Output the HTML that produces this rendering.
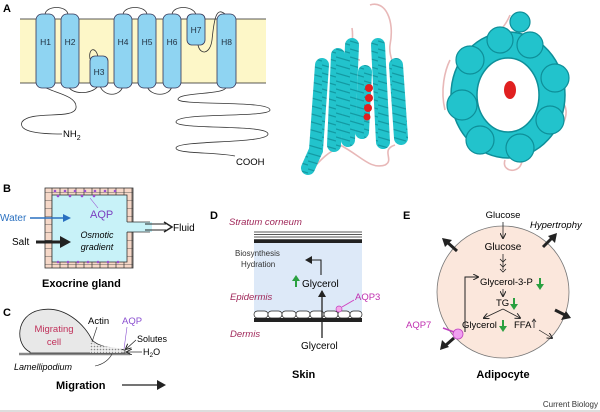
<!DOCTYPE html>
<html><head><meta charset="utf-8"><style>
body{margin:0;background:#fff}
svg{display:block;font-family:"Liberation Sans",Arial,sans-serif}
</style></head><body>
<svg width="600" height="412" viewBox="0 0 600 412" xmlns="http://www.w3.org/2000/svg">
<defs>
<pattern id="brick" width="8" height="8" patternUnits="userSpaceOnUse"><rect width="8" height="8" fill="#f6d8c8"/><path d="M0 0H8M4 0V8" stroke="#333" stroke-width="0.7"/></pattern>
<pattern id="dots" width="3" height="3" patternUnits="userSpaceOnUse"><rect width="3" height="3" fill="#eee"/><circle cx="1.5" cy="1.5" r="0.8" fill="#888"/></pattern>
<pattern id="helix" width="14" height="8" patternUnits="userSpaceOnUse"><rect width="14" height="8" fill="#22c3cc"/><path d="M0 1L14 5" stroke="#139aa3" stroke-width="1.2"/></pattern>
<marker id="ah" markerWidth="8" markerHeight="8" refX="6" refY="4" orient="auto" markerUnits="userSpaceOnUse"><path d="M0 0L7 4L0 8Z" fill="#222"/></marker>
<marker id="ahs" markerWidth="6" markerHeight="6" refX="5" refY="3" orient="auto" markerUnits="userSpaceOnUse"><path d="M0 0L6 3L0 6" fill="none" stroke="#222" stroke-width="1"/></marker>
</defs>
<!-- Panel A -->
<text x="3" y="12" font-size="11" font-weight="bold">A</text>
<rect x="20" y="19" width="246" height="64" fill="#fdf7c8"/>
<line x1="20" y1="19" x2="266" y2="19" stroke="#222" stroke-width="0.8"/>
<line x1="20" y1="83" x2="266" y2="83" stroke="#222" stroke-width="0.8"/>
<g fill="none" stroke="#333" stroke-width="0.8">
<path d="M45 15C45 5 68 5 68 15"/><path d="M68 85C70 95 92 95 98 86"/><path d="M90 59C88 48 96 46 98 57"/>
<path d="M100 86C104 97 120 97 123 86"/><path d="M123 15C123 5 147 5 147 15"/><path d="M147 86C150 97 170 97 172 86"/>
<path d="M172 15C172 5 194 5 196 15"/><path d="M198 45C200 55 210 55 212 40C214 20 216 5 226 15"/>
<path d="M45 87C50 92 78 95 76 108C74 120 30 110 22 122C18 132 40 134 62 134"/>
<path d="M226 87C226 95 180 92 178 99C176 106 270 100 270 110C270 118 176 112 176 122C176 130 268 124 268 134C268 144 176 140 176 148C176 154 215 152 235 156"/>
</g>
<g fill="#8fd4f2" stroke="#335" stroke-width="0.8">
<rect x="36" y="14" width="19" height="74" rx="6"/><rect x="61" y="14" width="18" height="74" rx="6"/>
<rect x="90" y="56" width="18" height="31" rx="5"/><rect x="114" y="14" width="18" height="74" rx="6"/>
<rect x="138" y="14" width="18" height="74" rx="6"/><rect x="163" y="14" width="18" height="74" rx="6"/>
<rect x="187" y="14" width="18" height="31" rx="5"/><rect x="217" y="14" width="19" height="74" rx="6"/>
</g>
<g font-size="8.5" fill="#234" text-anchor="middle">
<text x="45.5" y="45">H1</text><text x="70" y="45">H2</text><text x="99" y="75">H3</text><text x="123" y="45">H4</text>
<text x="147" y="45">H5</text><text x="172" y="45">H6</text><text x="196" y="33">H7</text><text x="226.5" y="45">H8</text>
</g>
<text x="63" y="137" font-size="9.5">NH<tspan font-size="7" dy="3">2</tspan></text>
<text x="236" y="165" font-size="9.5">COOH</text>
<!-- protein structures -->
<g stroke="#e8b8b8" stroke-width="1.6" fill="none">
<path d="M370 5C385 0 395 20 390 45C388 60 400 70 395 90"/><path d="M352 28C355 45 345 60 360 60"/>
<path d="M340 145C360 155 370 170 385 165C395 160 380 150 395 145"/><path d="M310 172C320 160 330 150 340 148"/>
<path d="M510 15C500 40 470 50 478 80"/><path d="M505 160C500 175 530 175 520 150"/><path d="M560 100C575 110 560 140 540 135"/><path d="M450 60C445 70 440 90 445 110"/>
</g>
<g stroke="url(#helix)" stroke-width="14" fill="none" stroke-linecap="round">
<path d="M322 65L316 150"/><path d="M338 55L334 145"/><path d="M352 45L348 140"/><path d="M378 45L383 142"/>
<path d="M396 65L401 138"/><path d="M365 72L362 132"/><path d="M316 150L308 168"/>
</g>
<g fill="#e02020"><circle cx="369" cy="88" r="4"/><circle cx="369" cy="98" r="4"/><circle cx="368" cy="108" r="4"/><circle cx="367" cy="117" r="3.5"/></g>
<g fill="none" stroke="#22c3cc" stroke-width="26">
<ellipse cx="508" cy="95" rx="44" ry="50"/>
</g>
<g fill="none" stroke="#0e8f99" stroke-width="1.5">
<ellipse cx="508" cy="95" rx="57" ry="63"/><ellipse cx="508" cy="95" rx="31" ry="37"/>
</g>
<g fill="#22c3cc" stroke="#0e8f99" stroke-width="1.2"><circle cx="470" cy="60" r="14"/><circle cx="462" cy="105" r="15"/><circle cx="480" cy="140" r="14"/><circle cx="520" cy="148" r="14"/><circle cx="550" cy="120" r="14"/><circle cx="555" cy="78" r="14"/><circle cx="530" cy="45" r="13"/><circle cx="500" cy="40" r="13"/><circle cx="520" cy="22" r="10"/></g>
<ellipse cx="510" cy="90" rx="6" ry="9" fill="#e02020"/>
<!-- Panel B -->
<text x="3" y="192" font-size="11" font-weight="bold">B</text>
<rect x="45" y="188" width="88" height="80" fill="url(#brick)" stroke="#333" stroke-width="0.8"/>
<rect x="52" y="195" width="75" height="67" fill="#c8f2f8" stroke="#333" stroke-width="0.8"/>
<rect x="126" y="222" width="26" height="10" fill="#c8f2f8"/>
<path d="M127 222H150M127 232H150" stroke="#333" stroke-width="0.8"/>
<g fill="#9a4fd0"><circle cx="55" cy="191" r="1.3"/><circle cx="65" cy="191" r="1.3"/><circle cx="75" cy="191" r="1.3"/><circle cx="85" cy="191" r="1.3"/><circle cx="95" cy="191" r="1.3"/><circle cx="105" cy="191" r="1.3"/><circle cx="115" cy="191" r="1.3"/><circle cx="58" cy="196" r="1.3"/><circle cx="70" cy="196" r="1.3"/><circle cx="82" cy="196" r="1.3"/><circle cx="94" cy="196" r="1.3"/>
<circle cx="58" cy="262" r="1.3"/><circle cx="68" cy="262" r="1.3"/><circle cx="78" cy="262" r="1.3"/><circle cx="88" cy="262" r="1.3"/><circle cx="98" cy="262" r="1.3"/><circle cx="108" cy="262" r="1.3"/><circle cx="118" cy="262" r="1.3"/></g>
<path d="M90 198L98 208" stroke="#9a4fd0" stroke-width="0.6"/>
<text x="90" y="218" font-size="11" fill="#7a3fc0">AQP</text>
<text x="0" y="221" font-size="10" fill="#2a70c0">Water</text>
<path d="M30 218H66" stroke="#2a70c0" stroke-width="1.5"/><path d="M63 214L71 218L63 222Z" fill="#2a70c0"/>
<text x="12" y="245" font-size="10">Salt</text>
<path d="M36 242H62" stroke="#222" stroke-width="3"/><path d="M60 236L71 242L60 248Z" fill="#222"/>
<text x="97" y="238" font-size="9" font-style="italic" text-anchor="middle">Osmotic</text>
<text x="97" y="250" font-size="9" font-style="italic" text-anchor="middle">gradient</text>
<path d="M145 224H166M145 230H166" stroke="#222" stroke-width="1"/><path d="M164 222L172 227L164 232" fill="none" stroke="#222" stroke-width="1.5"/>
<text x="173" y="231" font-size="10">Fluid</text>
<text x="42" y="287" font-size="11" font-weight="bold">Exocrine gland</text>
<!-- Panel C -->
<text x="3" y="316" font-size="11" font-weight="bold">C</text>
<path d="M19 354H130" stroke="#888" stroke-width="2.5"/>
<path d="M30 352C15 345 15 315 40 310C65 305 85 325 92 340C100 348 115 348 125 350L125 353H30Z" fill="#e8e8e8" stroke="#222" stroke-width="0.8"/>
<path d="M90 342C100 347 115 347 122 349L122 353H90Z" fill="url(#dots)"/>
<text x="54" y="332" font-size="9.5" fill="#c0305a" text-anchor="middle">Migrating</text>
<text x="54" y="345" font-size="9.5" fill="#c0305a" text-anchor="middle">cell</text>
<text x="88" y="324" font-size="9.5">Actin</text>
<text x="122" y="324" font-size="9.5" fill="#8a4fd0">AQP</text>
<path d="M97 327L92 342" stroke="#222" stroke-width="0.6"/><path d="M127 327L124 349" stroke="#8a4fd0" stroke-width="0.6"/>
<text x="137" y="342" font-size="9">Solutes</text>
<text x="143" y="355" font-size="9">H<tspan font-size="6.5" dy="2">2</tspan><tspan dy="-2">O</tspan></text>
<path d="M136 340L126 349" stroke="#222" stroke-width="0.7" marker-end="url(#ahs)"/>
<path d="M142 352H127" stroke="#222" stroke-width="0.7" marker-end="url(#ahs)"/>
<text x="14" y="370" font-size="9" font-style="italic">Lamellipodium</text>
<path d="M95 366C105 364 110 358 112 354" stroke="#222" stroke-width="0.6" fill="none"/>
<text x="56" y="389" font-size="11" font-weight="bold">Migration</text>
<path d="M122 385H160" stroke="#222" stroke-width="1.2"/><path d="M157 380L166 385L157 390Z" fill="#222"/>
<!-- Panel D -->
<text x="210" y="219" font-size="11" font-weight="bold">D</text>
<text x="229" y="225" font-size="9.5" font-style="italic" fill="#a0285a">Stratum corneum</text>
<rect x="254" y="242" width="108" height="70" fill="#dde9f8"/>
<g stroke="#222" stroke-width="0.8"><path d="M254 232H362M254 234.5H362M254 237H362M254 239.5H362"/></g>
<rect x="254" y="240" width="108" height="3" fill="#222"/>
<g fill="#fff" stroke="#222" stroke-width="0.7">
<rect x="254" y="311" width="14" height="7" rx="3.5"/><rect x="268" y="311" width="14" height="7" rx="3.5"/><rect x="282" y="311" width="14" height="7" rx="3.5"/><rect x="296" y="311" width="14" height="7" rx="3.5"/><rect x="310" y="311" width="14" height="7" rx="3.5"/><rect x="324" y="311" width="14" height="7" rx="3.5"/><rect x="338" y="311" width="12" height="7" rx="3.5"/><rect x="350" y="311" width="12" height="7" rx="3.5"/></g>
<rect x="254" y="318" width="108" height="4" fill="#222"/>
<circle cx="339" cy="309" r="3" fill="#f4a8e8" stroke="#c040c0" stroke-width="0.7"/>
<path d="M342 307L354 300" stroke="#d040c0" stroke-width="1"/>
<text x="355" y="300" font-size="9.5" fill="#c030b0">AQP3</text>
<text x="235" y="256" font-size="8" fill="#333">Biosynthesis</text>
<text x="241" y="267" font-size="8" fill="#333">Hydration</text>
<path d="M321 275V260H306" stroke="#222" stroke-width="1.1" fill="none" marker-end="url(#ah)"/>
<path d="M296 287V278" stroke="#2aa040" stroke-width="2"/><path d="M292 281L296 275L300 281Z" fill="#2aa040"/>
<text x="302" y="287" font-size="10">Glycerol</text>
<path d="M322 338V291" stroke="#222" stroke-width="1.3" marker-end="url(#ah)"/>
<text x="230" y="300" font-size="9.5" font-style="italic" fill="#a0285a">Epidermis</text>
<text x="230" y="337" font-size="9.5" font-style="italic" fill="#a0285a">Dermis</text>
<text x="301" y="349" font-size="10">Glycerol</text>
<text x="292" y="378" font-size="11" font-weight="bold">Skin</text>
<!-- Panel E -->
<text x="403" y="219" font-size="11" font-weight="bold">E</text>
<circle cx="503" cy="292" r="66" fill="#fbe7dc" stroke="#777" stroke-width="0.8"/>
<text x="503" y="218" font-size="9.5" text-anchor="middle">Glucose</text>
<text x="530" y="228" font-size="9.5" font-style="italic">Hypertrophy</text>
<path d="M503 222V238" stroke="#222" stroke-width="0.8" marker-end="url(#ahs)"/>
<text x="503" y="250" font-size="10" text-anchor="middle">Glucose</text>
<path d="M503 254V270" stroke="#222" stroke-width="0.8"/>
<g fill="none" stroke="#222" stroke-width="0.8"><path d="M500 259L503 262L506 259M500 264L503 267L506 264M500 269L503 272L506 269"/></g>
<text x="480" y="285" font-size="9.5">Glycerol-3-P</text>
<path d="M540 278V286" stroke="#2aa040" stroke-width="2"/><path d="M536 284L540 290L544 284Z" fill="#2aa040"/>
<path d="M503 289V296" stroke="#222" stroke-width="0.8" marker-end="url(#ahs)"/>
<text x="496" y="306" font-size="9.5">TG</text>
<path d="M514 298V306" stroke="#2aa040" stroke-width="2"/><path d="M510 304L514 310L518 304Z" fill="#2aa040"/>
<path d="M503 309L484 318" stroke="#222" stroke-width="0.8" marker-end="url(#ahs)"/>
<path d="M503 309L520 318" stroke="#222" stroke-width="0.8" marker-end="url(#ahs)"/>
<text x="462" y="328" font-size="9.5">Glycerol</text>
<path d="M503 320V328" stroke="#2aa040" stroke-width="2"/><path d="M499 326L503 332L507 326Z" fill="#2aa040"/>
<text x="514" y="328" font-size="9.5">FFA</text>
<path d="M534 328V320" stroke="#222" stroke-width="0.8"/><path d="M532 322L534 319L536 322" fill="none" stroke="#222" stroke-width="0.7"/>
<path d="M539 330L552 338" stroke="#222" stroke-width="0.7" marker-end="url(#ahs)"/>
<path d="M465 332V277H478" stroke="#222" stroke-width="1" fill="none" marker-end="url(#ahs)"/>
<circle cx="458" cy="334" r="5" fill="#f0a0f0" stroke="#c040c0" stroke-width="0.8"/>
<text x="406" y="328" font-size="9.5" fill="#c030b0">AQP7</text>
<path d="M443 328L454 332" stroke="#c040c0" stroke-width="1.5"/>
<g stroke="#222" stroke-width="3" fill="none">
<path d="M454 338L446 345"/><path d="M457 251L447 242"/><path d="M543 247L552 238"/><path d="M555 310L565 315"/>
</g>
<g fill="#222">
<path d="M440 350L442 340L449 347Z"/><path d="M442 238L452 240L445 247Z"/><path d="M557 233L555 243L548 236Z"/><path d="M571 318L561 320L566 311Z"/>
</g>
<text x="503" y="378" font-size="11" font-weight="bold" text-anchor="middle">Adipocyte</text>
<text x="598" y="407" font-size="8" text-anchor="end" fill="#333">Current Biology</text>
<path d="M0 411H600" stroke="#bbb" stroke-width="1"/>
</svg>
</body></html>
